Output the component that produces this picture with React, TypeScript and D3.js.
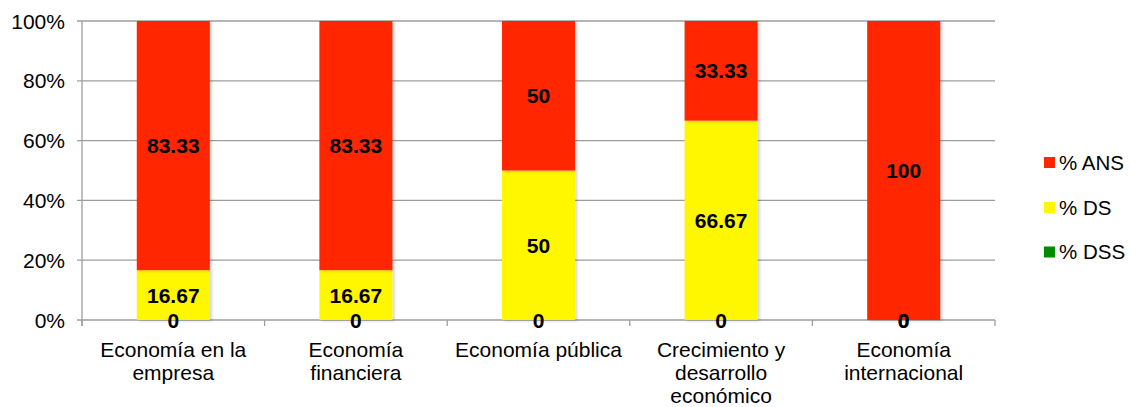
import React from "react";
import * as d3 from "d3";

const categories: string[][] = [
  ["Economía en la", "empresa"],
  ["Economía", "financiera"],
  ["Economía pública"],
  ["Crecimiento y", "desarrollo", "económico"],
  ["Economía", "internacional"],
];
const dss: number[] = [0, 0, 0, 0, 0];
const ds: number[] = [16.67, 16.67, 50, 66.67, 0];
const ans: number[] = [83.33, 83.33, 50, 33.33, 100];
const seriesNames = ["% DSS", "% DS", "% ANS"];
const seriesColors = ["#008C00", "#FFF700", "#FF2600"];
const yTicks = [0, 20, 40, 60, 80, 100];

export default function App() {
  const W = 1130, H = 407;
  const left = 82, right = 995, top = 21, bottom = 320;
  const x = d3.scaleBand<number>().domain(d3.range(categories.length)).range([left, right]).paddingInner(0.6).paddingOuter(0.3);
  const xb = d3.scaleBand<number>().domain(d3.range(categories.length)).range([left, right]);
  const y = d3.scaleLinear().domain([0, 100]).range([bottom, top]);
  const data = categories.map((_, i) => ({ i, dss: dss[i], ds: ds[i], ans: ans[i] }));
  const stack = d3.stack<any>().keys(["dss", "ds", "ans"])(data);
  const font = "Arial, 'Liberation Sans', sans-serif";
  const legendY = [162.5, 207.5, 252];
  return (
    <svg width={W} height={H} style={{ position: "absolute", left: 0, top: 0 }} fontFamily={font}>
      <defs>
        <filter id="sh" x="-20%" y="-5%" width="140%" height="110%">
          <feDropShadow dx="2" dy="1" stdDeviation="1.5" floodColor="#000" floodOpacity="0.18" />
        </filter>
      </defs>
      <rect width={W} height={H} fill="#fff" />
      {yTicks.map((t) => (
        <g key={t}>
          <line x1={left - 5} x2={right} y1={y(t)} y2={y(t)} stroke="#9e9e9e" strokeWidth={1.3} />
          <text x={65} y={y(t)} dy="0.36em" textAnchor="end" fontSize={21} fill="#000">{t}%</text>
        </g>
      ))}
      <line x1={left} x2={left} y1={top} y2={bottom + 6} stroke="#9e9e9e" strokeWidth={1.3} />
      {d3.range(categories.length + 1).map((k) => {
        const xx = k < categories.length ? (xb(k) as number) : right;
        return <line key={k} x1={xx} x2={xx} y1={bottom} y2={bottom + 6} stroke="#9e9e9e" strokeWidth={1.3} />;
      })}
      {stack.map((s, si) =>
        s.map((d, i) => {
          const h = y(d[0]) - y(d[1]);
          if (h <= 0) return null;
          return (
            <rect key={si + "-" + i} x={x(i)} y={y(d[1])} width={x.bandwidth()} height={h} fill={seriesColors[si]} filter="url(#sh)" />
          );
        })
      )}
      {stack.map((s, si) =>
        s.map((d, i) => {
          const v = d[1] - d[0];
          return (
            <text key={"l" + si + "-" + i} x={(x(i) as number) + x.bandwidth() / 2} y={y((d[0] + d[1]) / 2)} dy="0.36em" textAnchor="middle" fontSize={21} fontWeight="bold" fill="#000">
              {Math.round(v * 100) / 100}
            </text>
          );
        })
      )}
      {categories.map((lines, i) => (
        <text key={"c" + i} x={(xb(i) as number) + xb.bandwidth() / 2} textAnchor="middle" fontSize={21} fill="#000">
          {lines.map((ln, j) => (
            <tspan key={j} x={(xb(i) as number) + xb.bandwidth() / 2} y={357 + j * 23}>{ln}</tspan>
          ))}
        </text>
      ))}
      {[2, 1, 0].map((si, k) => (
        <g key={"lg" + si}>
          <rect x={1044} y={legendY[k] - 5.5} width={11} height={11} fill={seriesColors[si]} />
          <text x={1059} y={legendY[k]} dy="0.36em" fontSize={20.5} fill="#000">{seriesNames[si]}</text>
        </g>
      ))}
    </svg>
  );
}
